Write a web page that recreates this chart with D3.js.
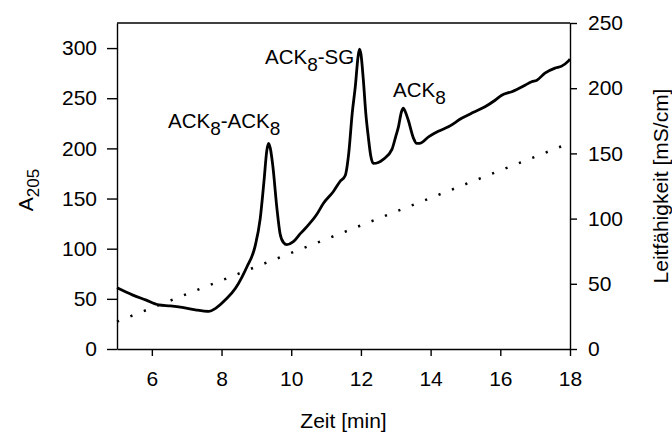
<!DOCTYPE html>
<html lang="de">
<head>
    <meta charset="UTF-8">
    <title>Chromatogramm</title>
    <script src="https://d3js.org/d3.v7.min.js"></script>
    <style>
        body { margin: 0; background: #fff; }
        text { font-family: "Liberation Sans", Arial, sans-serif; fill: #000; }
        .domain, .tick line { stroke: #000; stroke-width: 1.4; }
    </style>
</head>
<body>
<div id="chart"></div>
<script>
// A205 trace (time in min, absorbance)
const timeMin = [5.00, 5.44, 5.82, 6.20, 6.53, 6.87, 7.25, 7.64, 7.83, 8.11, 8.40, 8.59,
    8.73, 8.96, 9.11, 9.22, 9.30, 9.35, 9.40, 9.47, 9.59, 9.68, 9.78, 9.87,
    10.06, 10.26, 10.45, 10.73, 10.92, 11.21, 11.40, 11.55, 11.65, 11.75, 11.84, 11.92,
    11.96, 12.00, 12.07, 12.14, 12.21, 12.28, 12.36, 12.50, 12.64, 12.89, 13.00, 13.08,
    13.16, 13.22, 13.28, 13.36, 13.51, 13.60, 13.68, 13.94, 14.22, 14.51, 14.89, 15.23,
    15.56, 15.85, 16.04, 16.33, 16.71, 16.90, 17.05, 17.28, 17.57, 17.76, 17.95, 18.00];
const absorbance = [61, 54, 49, 44, 43, 41.5, 39, 37.5, 40.5, 49, 60.5, 72,
    82, 102, 130, 168, 198, 205, 200, 183, 140, 115, 106, 104,
    107, 115, 122, 134, 145, 157, 167, 173, 195, 235, 262, 292,
    299, 294, 268, 235, 212, 193, 185, 186, 189, 199, 212, 222,
    236, 240, 236, 228, 210, 205, 205, 211.5, 217, 221.5, 230, 236,
    241.5, 248, 253, 256.5, 263, 266.5, 268, 275, 280, 282, 287, 289];

// conductivity gradient (dotted), mS/cm
const condTime = [5, 18];
const condValues = [21, 158];

const xTicks = [6, 8, 10, 12, 14, 16, 18];
const leftTicks = [0, 50, 100, 150, 200, 250, 300];
const rightTicks = [0, 50, 100, 150, 200, 250];

const peakLabels = [
    {parts: [["ACK", 0], ["8", 1], ["-ACK", 0], ["8", 1]], x: 168, y: 127.5},
    {parts: [["ACK", 0], ["8", 1], ["-SG", 0]], x: 265, y: 63.5},
    {parts: [["ACK", 0], ["8", 1]], x: 393, y: 97}
];

const margin = {top: 23, right: 102, bottom: 87, left: 117},
    width = 672 - margin.left - margin.right,
    height = 436 - margin.top - margin.bottom;

const svg = d3.select("#chart").append("svg")
    .attr("width", 672)
    .attr("height", 436);

const g = svg.append("g")
    .attr("transform", "translate(" + margin.left + "," + margin.top + ")");

const x = d3.scaleLinear().domain([5, 18]).range([0, width]);
const yL = d3.scaleLinear().domain([0, 325]).range([height, 0]);
const yR = d3.scaleLinear().domain([0, 250]).range([height, 0]);

// top border
g.append("line")
    .attr("x1", 0).attr("x2", width)
    .attr("y1", 0).attr("y2", 0)
    .attr("stroke", "#000").attr("stroke-width", 1.4);

// left axis
g.append("g")
    .call(d3.axisLeft(yL).tickValues(leftTicks).tickSize(10).tickPadding(10).tickSizeOuter(0))
    .call(a => a.selectAll("text").style("font-size", "21px"));

// right axis
g.append("g")
    .attr("transform", "translate(" + width + ",0)")
    .call(d3.axisRight(yR).tickValues(rightTicks).tickSize(7).tickPadding(11).tickSizeOuter(0))
    .call(a => a.selectAll("text").style("font-size", "21px"));

// bottom axis
g.append("g")
    .attr("transform", "translate(0," + height + ")")
    .call(d3.axisBottom(x).tickValues(xTicks).tickSize(7).tickPadding(15).tickSizeOuter(0))
    .call(a => a.selectAll("text").style("font-size", "21px"));

// dotted conductivity line
const condLine = d3.line()
    .x((d, i) => x(condTime[i]))
    .y(d => yR(d));

g.append("path")
    .datum(condValues)
    .attr("fill", "none")
    .attr("stroke", "#000")
    .attr("stroke-width", 2.5)
    .attr("stroke-dasharray", "2.2 12.2")
    .attr("d", condLine);

// absorbance trace
const trace = d3.line()
    .x((d, i) => x(timeMin[i]))
    .y(d => yL(d))
    .curve(d3.curveMonotoneX);

g.append("path")
    .datum(absorbance)
    .attr("fill", "none")
    .attr("stroke", "#000")
    .attr("stroke-width", 2.8)
    .attr("stroke-linejoin", "round")
    .attr("d", trace);

// peak labels with subscripts
peakLabels.forEach(function(p) {
    const t = svg.append("text")
        .attr("x", p.x).attr("y", p.y)
        .style("font-size", "20.5px");
    let shifted = 0;
    p.parts.forEach(function(part) {
        const sub = part[1] === 1;
        t.append("tspan")
            .attr("dy", sub ? 7 - shifted : -shifted)
            .style("font-size", sub ? "19px" : "20.5px")
            .text(part[0]);
        shifted = sub ? 7 : 0;
    });
});

// axis titles
svg.append("text")
    .attr("x", margin.left + width / 2)
    .attr("y", 428)
    .attr("text-anchor", "middle")
    .style("font-size", "21px")
    .text("Zeit [min]");

const yTitle = svg.append("text")
    .attr("transform", "translate(33,190) rotate(-90)")
    .attr("text-anchor", "middle")
    .style("font-size", "21px");
yTitle.append("tspan").text("A");
yTitle.append("tspan").attr("dy", 6).style("font-size", "17px").text("205");

svg.append("text")
    .attr("transform", "translate(668," + (margin.top + height / 2) + ") rotate(-90)")
    .attr("text-anchor", "middle")
    .style("font-size", "21px")
    .text("Leitfähigkeit [mS/cm]");
</script>
</body>
</html>
